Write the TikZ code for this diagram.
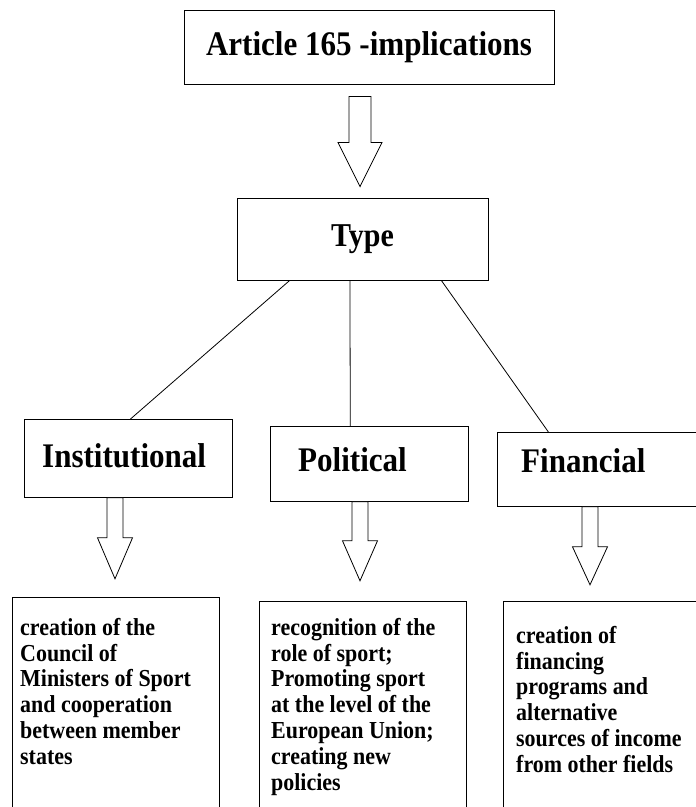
\documentclass[tikz,border=0pt]{standalone}
\usepackage{fontspec}
\setmainfont{Liberation Serif}[FakeStretch=0.9]
\usetikzlibrary{calc}
\tikzset{
  box/.style={draw, line width=0.8pt, rectangle, inner sep=0pt},
  ttl/.style={font=\bfseries\fontsize{34.5}{34.5}\selectfont, inner sep=0pt},
  body/.style={font=\bfseries\fontsize{24.4}{25.8}\selectfont, align=left, inner sep=0pt, anchor=north west},
  conn/.style={line width=0.8pt},
  barrow/.style={draw, line width=0.8pt, fill=white, line join=miter},
}
\newcommand\blkarrow[5]{%
  \draw[barrow] ($(#1)+(-#3,0)$) -- ($(#1)+(#3,0)$) -- ($(#1)+(#3,#5)$) -- ($(#1)+(#4,#5)$)
    -- (#2) -- ($(#1)+(-#4,#5)$) -- ($(#1)+(-#3,#5)$) -- cycle;}
\begin{document}
\begin{tikzpicture}[x=1pt,y=-1pt]
\useasboundingbox (0,0) rectangle (696,807);
\clip (0,0) rectangle (696,807);
% top boxes
\node[box, ttl, minimum width=370, minimum height=74] (title) at (369,47) {Article 165 -implications};
\node[box, ttl, font=\bfseries\fontsize{33.3}{33.3}\selectfont, minimum width=251, minimum height=82] (type) at (362.5,239) {Type};
% category boxes
\node[box, anchor=north west, minimum width=208, minimum height=78] (inst) at (24,419) {};
\node[box, anchor=north west, minimum width=198, minimum height=75] (pol) at (270,426) {};
\node[box, anchor=north west, minimum width=200, minimum height=74] (fin) at (497,432) {};
\node[ttl, anchor=west] (instt) at (42,456) {Institutional};
\node[ttl, anchor=west] (polt) at (298,460) {Political};
\node[ttl, anchor=west] (fint) at (521,461) {Financial};
% bottom boxes
\node[box, anchor=north west, minimum width=207, minimum height=260] (b1) at (12,597) {};
\node[box, anchor=north west, minimum width=207, minimum height=260] (b2) at (259,601) {};
\node[box, anchor=north west, minimum width=210, minimum height=260] (b3) at (503,601) {};
\node[body] (b1t) at (20,618) {creation of the\\Council of\\Ministers of Sport\\and cooperation\\between member\\states};
\node[body] (b2t) at (271,618) {recognition of the\\role of sport;\\Promoting sport\\at the level of the\\European Union;\\creating new\\policies};
\node[body] (b3t) at (516,626) {creation of\\financing\\programs and\\alternative\\sources of income\\from other fields};
% connectors
\draw[conn] ($(type.south west)!0.211!(type.south east)$) -- ($(inst.north west)!0.51!(inst.north east)$);
\draw[conn] ($(type.south west)!0.45!(type.south east)$) -- ($(pol.north west)!0.404!(pol.north east)$);
\draw[conn] ($(type.south west)!0.813!(type.south east)$) -- ($(fin.north west)!0.256!(fin.north east)$);
% block arrows
\coordinate (a1s) at ($(title.south)+(-9,12)$);
\coordinate (a1e) at ($(type.north)+(-2.5,-11)$);
\blkarrow{a1s}{a1e}{11}{22}{46}
\coordinate (a2s) at ($(inst.south west)+(91,0)$);
\coordinate (a2e) at ($(a2s)+(0,81)$);
\blkarrow{a2s}{a2e}{8}{17.5}{40}
\coordinate (a3s) at ($(pol.south west)+(90,0)$);
\coordinate (a3e) at ($(a3s)+(0,79)$);
\blkarrow{a3s}{a3e}{8}{17.5}{39}
\coordinate (a4s) at ($(fin.south west)+(93,0)$);
\coordinate (a4e) at ($(a4s)+(0,78)$);
\blkarrow{a4s}{a4e}{8}{17.5}{40}
\end{tikzpicture}
\end{document}
